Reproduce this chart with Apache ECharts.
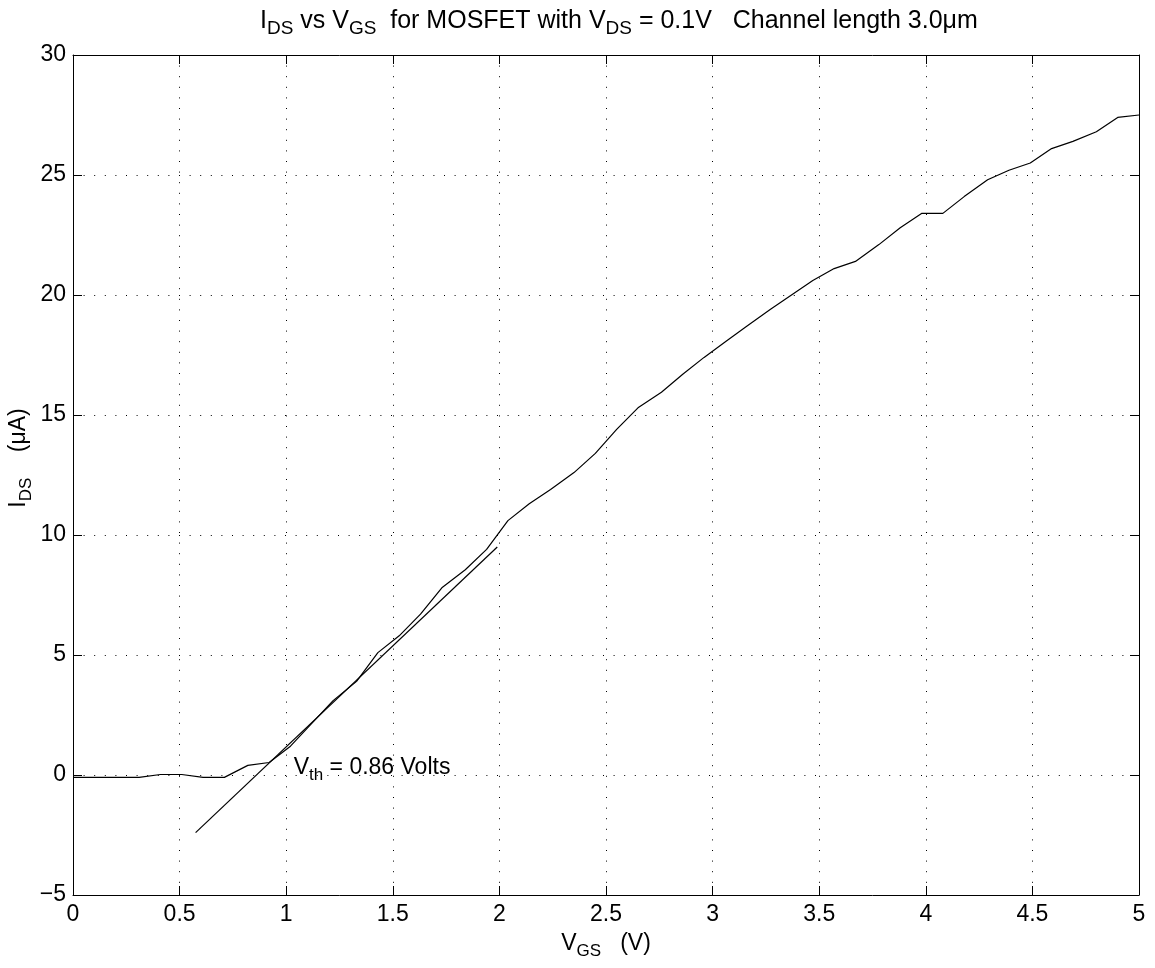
<!DOCTYPE html>
<html>
<head>
<meta charset="utf-8">
<script src="https://cdn.jsdelivr.net/npm/echarts@6/dist/echarts.min.js"></script>
<style>html,body{margin:0;padding:0;background:#fff}#c{width:1155px;height:968px}</style>
</head>
<body>
<div id="c"></div>
<script>
// Measured drain current vs gate voltage
const vgs = [0, 0.10, 0.20, 0.31, 0.41, 0.51, 0.61, 0.71, 0.82, 0.92,
  1.02, 1.12, 1.22, 1.33, 1.43, 1.53, 1.63, 1.73, 1.84, 1.94,
  2.04, 2.14, 2.24, 2.35, 2.45, 2.55, 2.65, 2.76, 2.86, 2.96,
  3.06, 3.16, 3.27, 3.37, 3.47, 3.57, 3.67, 3.78, 3.88, 3.98,
  4.08, 4.18, 4.29, 4.39, 4.49, 4.59, 4.69, 4.80, 4.90, 5.00];
const ids = [-0.1, -0.1, -0.1, -0.1, 0.02, 0.02, -0.1, -0.1, 0.4, 0.52,
  1.2, 2.15, 3.1, 3.9, 5.1, 5.8, 6.7, 7.8, 8.55, 9.4,
  10.6, 11.3, 11.9, 12.6, 13.4, 14.4, 15.3, 15.95, 16.7, 17.4,
  18.05, 18.7, 19.4, 20.0, 20.6, 21.1, 21.4, 22.1, 22.8, 23.4,
  23.4, 24.1, 24.8, 25.2, 25.5, 26.1, 26.4, 26.8, 27.4, 27.5];
// Linear fit used to extract threshold voltage
const fitX = [0.575, 1.99];
const fitY = [-2.4, 9.5];
// Annotation anchor (data coordinates)
const annotX = [1.035];
const annotY = [0.3];
const xTicks = [0, 0.5, 1, 1.5, 2, 2.5, 3, 3.5, 4, 4.5, 5];
const yTicks = [-5, 0, 5, 10, 15, 20, 25, 30];

const FONT = 'Liberation Sans, Arial, sans-serif';
const NARROW = '"Liberation Sans Narrow", "Arial Narrow", "Liberation Sans", sans-serif';
const FS = 23;
const SUB = 17;
const mkRich = (family, fs, sub) => ({
  n: {fontSize: fs, fontFamily: family, color: '#000', fontWeight: 'normal'},
  s: {fontSize: sub, fontFamily: family, color: '#000', fontWeight: 'normal', padding: [15, 0, 0, 0]}
});
const richBase = mkRich(FONT, FS, SUB);
const richTitle = mkRich(NARROW, 25, 19);

const chart = echarts.init(document.getElementById('c'));
const axisCommon = {
  type: 'value',
  axisLine: {show: true, onZero: false, lineStyle: {color: '#000', width: 1}},
  axisTick: {show: true, inside: true, length: 9, lineStyle: {color: '#000', width: 1}},
};
chart.setOption({
  animation: false,
  backgroundColor: '#fff',
  title: {
    text: '{n|I}{s|DS}{n| vs V}{s|GS}{n|  for MOSFET with V}{s|DS}{n| = 0.1V   Channel length 3.0μm}',
    left: 255,
    top: -1,
    textStyle: {fontWeight: 'normal', rich: richTitle}
  },
  grid: {left: 73, right: 16, top: 55, bottom: 73, containLabel: false, outerBoundsMode: 'none'},
  xAxis: [
    Object.assign({}, axisCommon, {
      min: xTicks[0], max: xTicks[xTicks.length - 1], interval: 0.5,
      position: 'bottom',
      name: '{n|V}{s|GS}{n|   (V)}',
      nameLocation: 'middle', nameGap: 33,
      nameTextStyle: {rich: richBase},
      axisLabel: {fontSize: FS, fontFamily: FONT, color: '#000', margin: 8,
        formatter: v => String(v)},
      splitLine: {show: true, lineStyle: {color: '#000', width: 1, type: [1, 9.6]}}
    }),
    Object.assign({}, axisCommon, {
      min: xTicks[0], max: xTicks[xTicks.length - 1], interval: 0.5,
      position: 'top', axisLabel: {show: false}, splitLine: {show: false}
    })
  ],
  yAxis: [
    Object.assign({}, axisCommon, {
      min: yTicks[0], max: yTicks[yTicks.length - 1], interval: 5,
      position: 'left',
      name: '{n|I}{s|DS}{n|    (μA)}',
      nameLocation: 'middle', nameGap: 38, nameRotate: 90, nameMoveOverlap: false,
      nameTextStyle: {rich: richBase, padding: [0, 0, 0, 34]},
      axisLabel: {fontSize: FS, fontFamily: FONT, color: '#000', margin: 7,
        formatter: v => String(v).replace('-', '\u2212')},
      splitLine: {show: true, lineStyle: {color: '#000', width: 1, type: [1, 9.6]}}
    }),
    Object.assign({}, axisCommon, {
      min: yTicks[0], max: yTicks[yTicks.length - 1], interval: 5,
      position: 'right', axisLabel: {show: false}, splitLine: {show: false}
    })
  ],
  series: [
    {
      type: 'line', xAxisIndex: 0, yAxisIndex: 0,
      data: vgs.map((x, i) => [x, ids[i]]),
      showSymbol: false, symbol: 'none',
      lineStyle: {color: '#000', width: 1.2}
    },
    {
      type: 'line', xAxisIndex: 0, yAxisIndex: 0,
      data: fitX.map((x, i) => [x, fitY[i]]),
      showSymbol: false, symbol: 'none',
      lineStyle: {color: '#000', width: 1.2}
    },
    {
      type: 'scatter', xAxisIndex: 0, yAxisIndex: 0,
      data: annotX.map((x, i) => [x, annotY[i]]),
      symbolSize: 0,
      itemStyle: {opacity: 1, color: '#000'},
      label: {
        show: true, position: 'right', distance: 0, color: '#000', opacity: 1,
        formatter: '{n|V}{s|th}{n| = 0.86 Volts}',
        rich: richBase
      }
    }
  ]
});
</script>
</body>
</html>
